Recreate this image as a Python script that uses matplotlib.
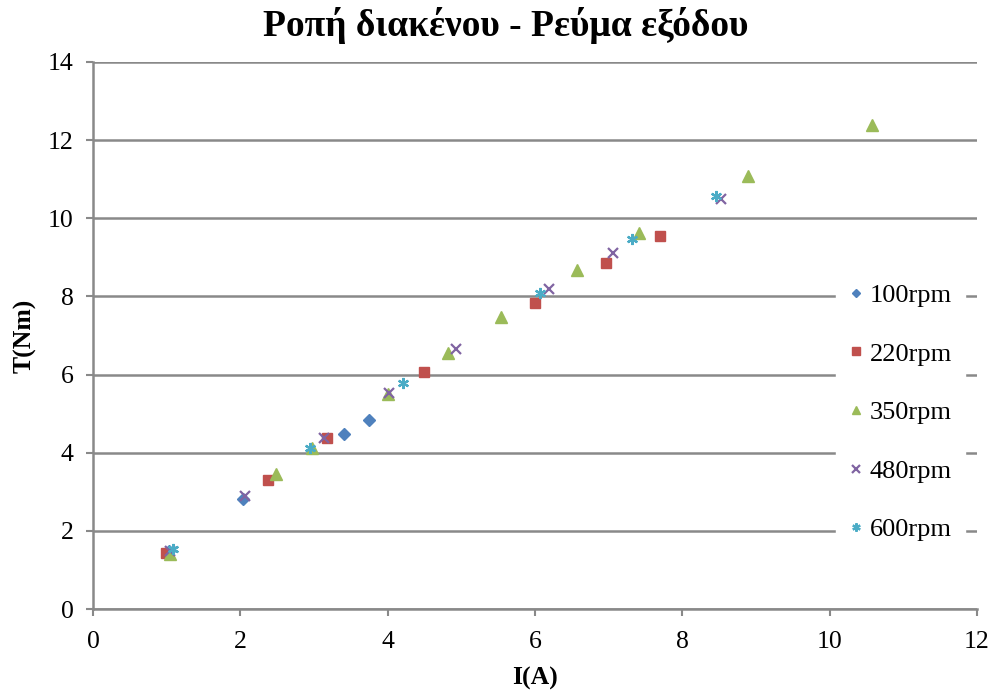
import matplotlib
matplotlib.use("Agg")
import matplotlib.pyplot as plt

plt.rcParams['font.family'] = ['Liberation Serif', 'DejaVu Serif']

series_labels = ["100rpm", "220rpm", "350rpm", "480rpm", "600rpm"]

i_100 = [1.03, 2.04, 3.41, 3.74]
t_100 = [1.48, 2.81, 4.48, 4.83]

i_220 = [0.99, 2.37, 3.17, 4.50, 6.00, 6.97, 7.70]
t_220 = [1.44, 3.30, 4.37, 6.07, 7.84, 8.86, 9.55]

i_350 = [1.05, 2.48, 2.97, 4.00, 4.82, 5.54, 6.57, 7.41, 8.89, 10.58]
t_350 = [1.41, 3.45, 4.11, 5.49, 6.56, 7.47, 8.68, 9.62, 11.07, 12.39]

i_480 = [1.05, 2.07, 3.14, 4.02, 4.93, 6.19, 7.06, 8.52]
t_480 = [1.49, 2.89, 4.37, 5.52, 6.65, 8.18, 9.12, 10.49]

i_600 = [1.09, 2.95, 4.21, 6.07, 7.32, 8.46]
t_600 = [1.53, 4.11, 5.79, 8.08, 9.46, 10.56]

xs = [i_100, i_220, i_350, i_480, i_600]
ys = [t_100, t_220, t_350, t_480, t_600]
colors = ["#4F81BD", "#C0504D", "#9BBB59", "#8064A2", "#4BACC6"]
markers = ["D", "s", "^", "x", (6, 2, 0)]
sizes = [6, 7.5, 8, 7, 8]

fig = plt.figure(figsize=(9.94, 6.95), dpi=100)
ax = fig.add_axes([93/994, 1-609/695, (977-93)/994, (609-62)/695])

for x, y, c, m, s, lab in zip(xs, ys, colors, markers, sizes, series_labels):
    if m in ("x", (6, 2, 0)):
        ax.plot(x, y, linestyle='none', marker=m, markersize=s, color=c,
                markeredgewidth=1.6, label=lab, zorder=3)
    else:
        ax.plot(x, y, linestyle='none', marker=m, markersize=s, color=c,
                markeredgecolor=c, label=lab, zorder=3)

ax.set_xlim(0, 12)
ax.set_ylim(0, 14)
ax.set_xticks(range(0, 13, 2))
ax.set_yticks(range(0, 15, 2))
ax.yaxis.grid(True, color='#898989', linewidth=1.8)
ax.set_axisbelow(True)
for sp in ['top', 'right']:
    ax.spines[sp].set_visible(False)
for sp in ['left', 'bottom']:
    ax.spines[sp].set_color('#898989')
    ax.spines[sp].set_linewidth(1.8)
ax.tick_params(axis='both', colors='#898989', length=5, width=1.5,
               labelsize=18.5, labelcolor='black', direction='out')
ax.tick_params(axis='x', pad=11)
ax.tick_params(axis='y', pad=9)

ax.set_xlabel("I(A)", fontsize=18.5, fontweight='bold', labelpad=10)
ax.set_ylabel("T(Nm)", fontsize=18.5, fontweight='bold', labelpad=8)
fig.suptitle("Ροπή διακένου - Ρεύμα εξόδου", fontsize=27, fontweight='bold',
             x=506/994, y=0.99, va='top')

leg = ax.legend(loc='center left', bbox_to_anchor=(836/994, 1-412.5/695),
                bbox_transform=fig.transFigure, frameon=True, fontsize=19,
                labelspacing=1.33, handlelength=0.5, handletextpad=0.27,
                borderpad=0.5, borderaxespad=0.0, markerscale=0.75)
leg.get_frame().set_edgecolor('white')
leg.get_frame().set_facecolor('white')
leg.get_frame().set_alpha(1.0)
leg.get_frame().set_boxstyle('square', pad=0.0)

fig.savefig("out.png", dpi=100)
